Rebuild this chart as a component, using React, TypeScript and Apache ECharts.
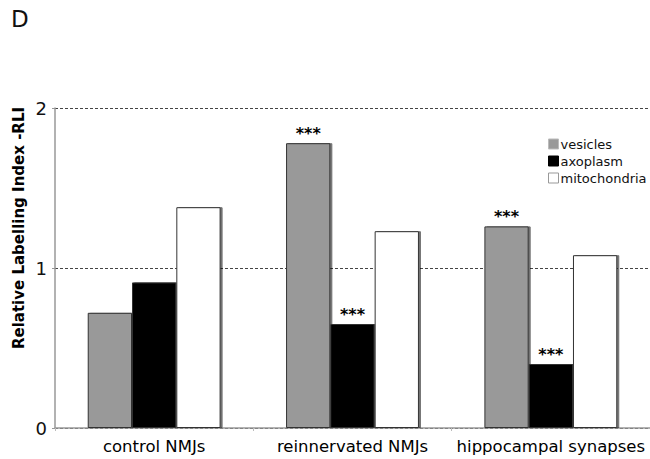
import React, { useEffect, useRef } from "react";
import * as echarts from "echarts";

const categories = ["control NMJs", "reinnervated NMJs", "hippocampal synapses"];
const seriesNames = ["vesicles", "axoplasm", "mitochondria"];
const vesicles = [0.72, 1.78, 1.26];
const axoplasm = [0.91, 0.65, 0.4];
const mitochondria = [1.38, 1.23, 1.08];
const vesiclesSig = ["", "***", "***"];
const axoplasmSig = ["", "***", "***"];
const mitochondriaSig = ["", "", ""];
const yTicks = [0, 1, 2];

const colors = ["#999999", "#000000", "#ffffff"];
const legendBorders = ["#bbbbbb", "#000000", "#999999"];

export default function App() {
  const ref = useRef<HTMLDivElement>(null);
  useEffect(() => {
    if (!ref.current) return;
    const chart = echarts.init(ref.current, undefined, { renderer: "svg" });
    const font = "DejaVu Sans, Verdana, sans-serif";
    const values = [vesicles, axoplasm, mitochondria];
    const sigs = [vesiclesSig, axoplasmSig, mitochondriaSig];
    chart.setOption({
      animation: false,
      backgroundColor: "#ffffff",
      grid: { left: 55, right: 0, top: 108, bottom: 31, containLabel: false },
      legend: {
        orient: "vertical",
        left: 548,
        top: 137,
        padding: 0,
        itemWidth: 10,
        itemHeight: 10,
        itemGap: 3,
        icon: "rect",
        textStyle: { fontFamily: font, fontSize: 13, color: "#111", padding: [0, 0, 0, -3], lineHeight: 14 },
        data: seriesNames.map((n, i) => ({
          name: n,
          itemStyle: { color: colors[i], borderColor: legendBorders[i], borderWidth: 1, shadowBlur: 0, shadowOffsetX: 0, shadowColor: "transparent" },
        })),
      },
      xAxis: {
        type: "category",
        data: categories,
        axisLine: { lineStyle: { color: "#999999", width: 1.5 } },
        axisTick: { show: true, length: 3, lineStyle: { color: "#bbbbbb" } },
        axisLabel: { interval: 0, fontFamily: font, fontSize: 16.5, color: "#000", margin: 10 },
      },
      yAxis: {
        type: "value",
        min: yTicks[0],
        max: yTicks[yTicks.length - 1],
        interval: 1,
        axisLine: { show: true, lineStyle: { color: "#999999", width: 1.5 } },
        axisTick: { show: true, length: 3, lineStyle: { color: "#999999" } },
        axisLabel: { fontFamily: font, fontSize: 18, color: "#111", margin: 8 },
        splitLine: { show: true, lineStyle: { color: "#444", width: 1, type: [3, 2] } },
      },
      series: seriesNames.map((n, i) => ({
        name: n,
        type: "bar",
        data: values[i],
        barGap: "0%",
        barCategoryGap: "33%",
        itemStyle: {
          color: colors[i],
          borderColor: "#333",
          borderWidth: 1,
          shadowColor: "rgba(0,0,0,0.55)",
          shadowOffsetX: 2,
          shadowOffsetY: 0,
          shadowBlur: 1,
        },
        label: {
          show: true,
          position: "top",
          distance: 2,
          fontFamily: font,
          fontSize: 16,
          fontWeight: "bold",
          color: "#000",
          formatter: (p: any) => sigs[i][p.dataIndex],
        },
      })),
      graphic: [
        {
          type: "text",
          x: 11,
          y: 7,
          style: { text: "D", fontFamily: font, fontSize: 23, fill: "#111" },
        },
        {
          type: "text",
          x: 19,
          y: 228,
          rotation: Math.PI / 2,
          style: {
            text: "Relative Labelling Index -RLI",
            fontFamily: font,
            fontSize: 15,
            fontWeight: "bold",
            fill: "#000",
            align: "center",
            verticalAlign: "middle",
          },
        },
      ],
    });
    return () => chart.dispose();
  }, []);
  return <div ref={ref} style={{ width: 650, height: 459, position: "absolute", left: 0, top: 0 }} />;
}
